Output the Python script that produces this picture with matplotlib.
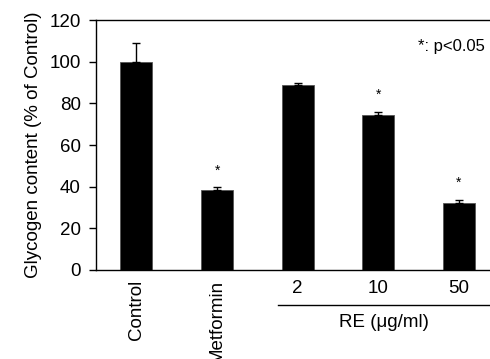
import matplotlib.pyplot as plt
from matplotlib.lines import Line2D

plt.rcParams['font.family'] = ['Liberation Sans', 'DejaVu Sans']

# data
groups = ['Control', 'Metformin', '2', '10', '50']
glycogen = [100.0, 38.6, 88.7, 74.3, 32.2]
sem = [8.8, 1.2, 1.1, 1.7, 1.5]
significant = [False, True, False, True, True]

fig = plt.figure(figsize=(4.9, 3.59), dpi=100)
# axes run past the right edge, as in the source picture
ax = fig.add_axes([0.196, 0.248, 0.823, 0.696])

x = list(range(len(groups)))
ax.bar(x, glycogen, width=0.4, color='black', edgecolor='#555555', linewidth=0.6)
ax.errorbar(x, glycogen, yerr=[[0] * len(sem), sem], fmt='none',
            ecolor='black', elinewidth=1, capsize=3, capthick=1)

# asterisks above the error bars
for xi, v, e, s in zip(x, glycogen, sem, significant):
    if s:
        ax.text(xi, v + e + 8, '*', ha='center', va='center', fontsize=10)

ax.text(0.965, 0.895, '*: p<0.05', transform=ax.transAxes,
        ha='right', va='center', fontsize=12)

ax.set_xlim(-0.5, 4.5)
ax.set_ylim(0, 120)
ax.set_yticks(range(0, 121, 20))
ax.set_xticks(x)
ax.set_xticklabels(groups, fontsize=13.5)
for lbl in ax.get_xticklabels()[:2]:
    lbl.set_rotation(90)
ax.tick_params(axis='x', length=0, pad=7)
ax.tick_params(axis='y', direction='out', length=5, width=1, labelsize=13.5, pad=6)
ax.set_ylabel('Glycogen content (% of Control)', fontsize=13.5, labelpad=5)

for sp in ax.spines.values():
    sp.set_linewidth(1)

# bracket line and label for the RE doses
trans = ax.get_xaxis_transform()
ax.add_line(Line2D([1.755, 4.8], [-0.14, -0.14], transform=trans,
                   color='black', linewidth=1, clip_on=False))
ax.text(3.07, -0.211, 'RE (\u03bcg/ml)', transform=trans, ha='center',
        va='center', fontsize=13.5)

plt.savefig('out.png', dpi=100)
